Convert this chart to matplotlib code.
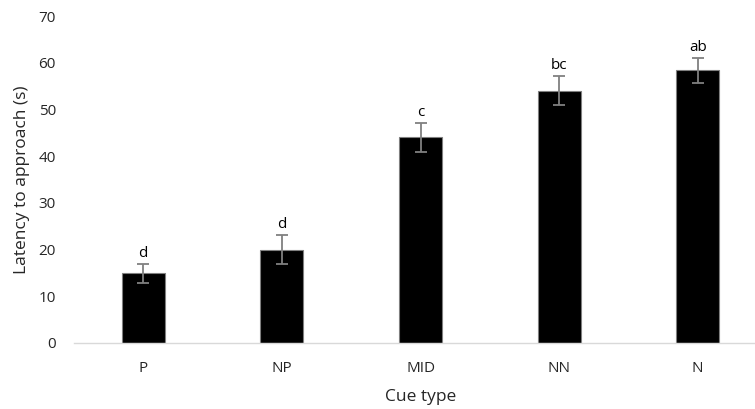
import matplotlib
matplotlib.use("Agg")
import matplotlib.pyplot as plt

categories = ["P", "NP", "MID", "NN", "N"]
means = [14.9, 20.0, 44.0, 54.0, 58.4]
errors = [2.1, 3.1, 3.1, 3.1, 2.7]
letters = ["d", "d", "c", "bc", "ab"]
yticks = [0, 10, 20, 30, 40, 50, 60, 70]

plt.rcParams['font.family'] = ['Open Sans', 'DejaVu Sans']

fig = plt.figure(figsize=(7.55, 4.09), dpi=100)
ax = fig.add_axes([74/755, 1-343/409, (767-74)/755, (343-16)/409])

x = list(range(len(categories)))
ax.bar(x, means, width=0.31, color="black", edgecolor="#7f7f7f", linewidth=0.8, zorder=2)
ax.errorbar(x, means, yerr=errors, fmt="none", ecolor="#808080", elinewidth=1.3,
            capsize=4.5, capthick=1.3, zorder=3)
for xi, m, e, lab in zip(x, means, errors, letters):
    ax.annotate(lab, (xi, m + e), xytext=(0, 2), textcoords="offset points",
                ha="center", va="bottom", fontsize=11, color="black")

ax.set_xlim(-0.5, 4.5)
ax.set_ylim(0, 70)
ax.set_yticks(yticks)
ax.set_xticks(x)
ax.set_xticklabels(categories)
ax.tick_params(axis="both", length=0, labelsize=11, colors="#262626")
ax.tick_params(axis="x", pad=13)
ax.tick_params(axis="y", pad=13)
for s in ["top", "right", "left"]:
    ax.spines[s].set_visible(False)
ax.spines["bottom"].set_color("#d9d9d9")
ax.spines["bottom"].set_linewidth(1.0)

ax.set_xlabel("Cue type", fontsize=12.5, color="#262626", labelpad=9)
ax.set_ylabel("Latency to approach (s)", fontsize=12.5, color="#262626", labelpad=6)

fig.savefig("out.png", dpi=100)
